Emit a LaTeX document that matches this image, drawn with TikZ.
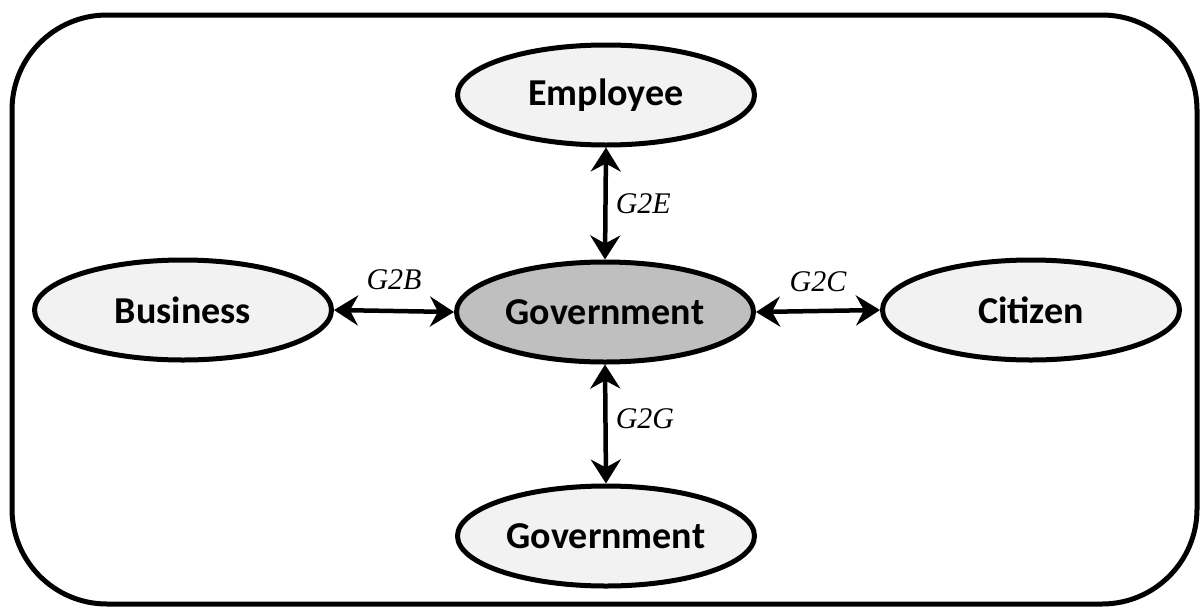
\documentclass[tikz,border=0pt]{standalone}
\usepackage{fontspec}
\setmainfont{Liberation Serif}
\newfontfamily\boxfont{Carlito}
\usetikzlibrary{shapes.geometric,arrows.meta}
\definecolor{lightfill}{RGB}{242,242,242}
\definecolor{darkfill}{RGB}{191,191,191}
\tikzset{
  party/.style={ellipse, draw=black, line width=5pt, fill=lightfill,
    minimum width=297pt, minimum height=100pt, inner sep=0pt,
    font=\boxfont\bfseries\fontsize{38}{42}\selectfont},
  hub/.style={party, fill=darkfill},
  link/.style={line width=4.5pt,
    {Stealth[length=24pt,width=30pt,inset=8pt]}-{Stealth[length=24pt,width=30pt,inset=8pt]}},
  tag/.style={font=\itshape\fontsize{30}{34}\selectfont, inner sep=2pt}
}
\begin{document}
\begin{tikzpicture}[x=1pt,y=-1pt]
  \useasboundingbox (0,0) rectangle (1201,608);
  % outer frame
  \draw[line width=5pt, rounded corners=95pt] (12,15) rectangle (1197,604);
  % parties
  \node[hub]   (gov) at (605,312) {Government};
  \node[party] (emp) at (606,95)  {Employee};
  \node[party] (bus) at (183,310) {Business};
  \node[party] (cit) at (1031,310) {Citizen};
  \node[party] (ggv) at (606,536) {Government};
  % relations
  \draw[link] (emp.south) -- node[tag, right, xshift=6pt] {G2E} (gov.north);
  \draw[link] (bus.east) -- node[tag, above, yshift=17pt] {G2B} (gov.west);
  \draw[link] (gov.east) -- node[tag, above, yshift=15pt] {G2C} (cit.west);
  \draw[link] (gov.south) -- node[tag, right, xshift=6pt, yshift=5pt] {G2G} (ggv.north);
\end{tikzpicture}
\end{document}
